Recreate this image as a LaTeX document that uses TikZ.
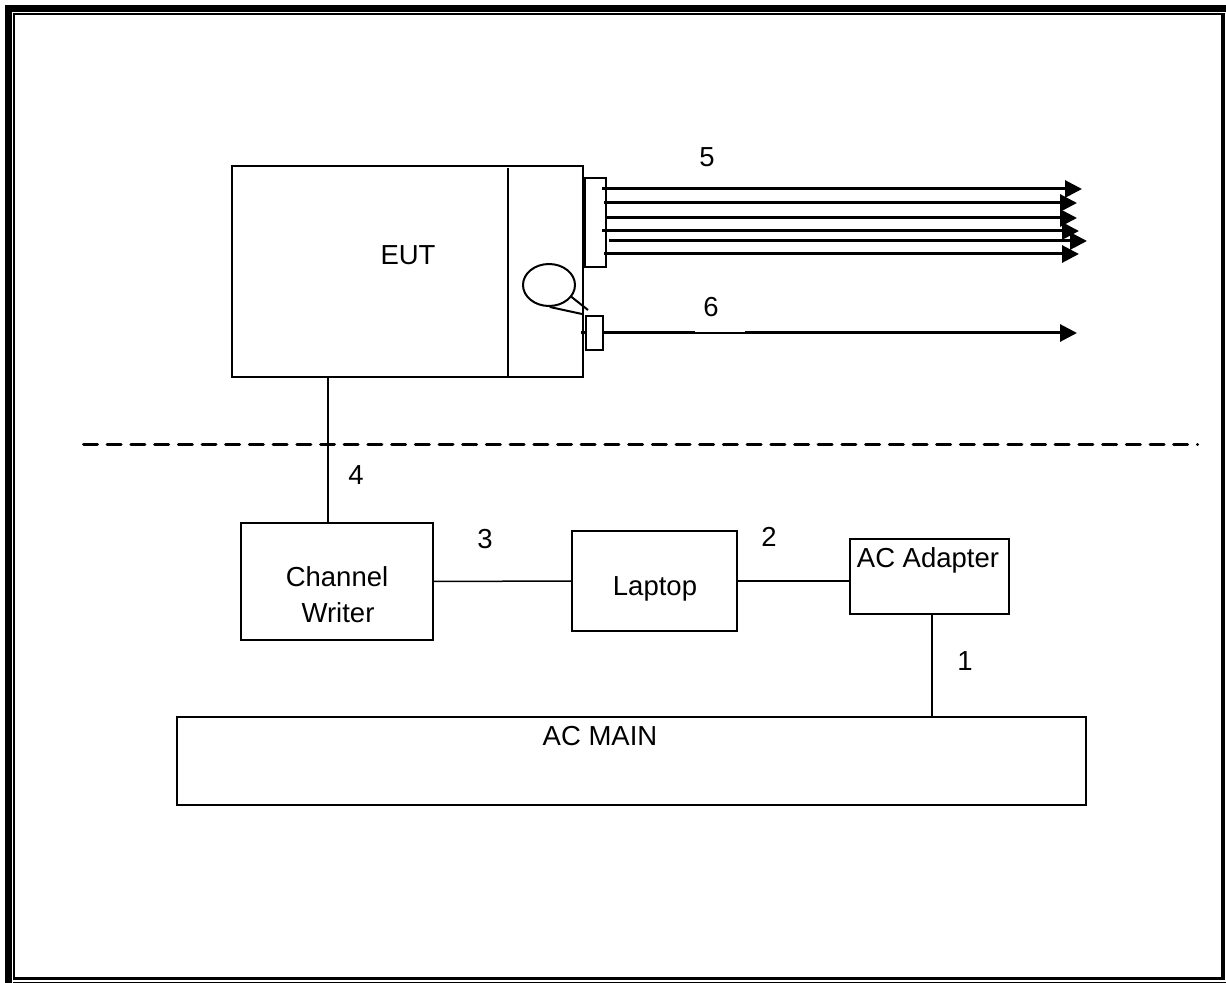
\documentclass[tikz,border=0pt]{standalone}
\usepackage{fontspec}
\setmainfont{Liberation Sans}
\usetikzlibrary{arrows.meta,shapes.geometric}
\begin{document}
\begin{tikzpicture}[x=0.5pt,y=-0.5pt,
  box/.style={draw,line width=1pt,fill=white,inner sep=0pt},
  txt/.style={inner sep=0pt,anchor=base,font=\fontsize{13.75pt}{17.5pt}\selectfont},
  cable/.style={line width=1.5pt},
  wire/.style={line width=1pt},
  thinwire/.style={line width=0.75pt},
  tip/.style={-{Triangle[length=8.5pt,width=8.5pt]}},
]
\useasboundingbox (0,0) rectangle (1226,983);
% page border
\fill (5,5) rectangle (12,983);
\fill (5,5) rectangle (1226,12);
\fill (13,13) rectangle (15,980);
\fill (13,13) rectangle (1221,15);
\fill (1221,13) rectangle (1225,980);
\fill (15,977) rectangle (1225,980);
\fill (13,982) rectangle (1226,983.5);

% EUT
\node[box,minimum width=175.5pt,minimum height=105.5pt] (eut) at (407.5,271.5) {};
\draw[thinwire] ([xshift=50.25pt,yshift=-1.5pt]eut.north) -- ([xshift=50.25pt]eut.south);
\node[txt] (euttext) at (408,265) {EUT};

% connector 5
\node[box,minimum width=10.5pt,minimum height=44.5pt] (c5) at (595.5,222.5) {};
\foreach \i/\sx/\yy/\ex in {1/602/189/1082, 2/604/203/1077, 3/606/218/1077, 4/602/231/1079, 5/609/241/1087, 6/604/254/1079} {
  \coordinate (s\i) at (\sx,\yy);
  \coordinate (e\i) at (\ex,\yy);
  \draw[cable,tip] (s\i) -- (e\i);
}

% connector 6
\node[box,minimum width=8.5pt,minimum height=17pt] (c6) at (594.5,333) {};
\coordinate (s7) at (581,333);
\coordinate (m1) at (695,333);
\coordinate (m2) at (745,333);
\coordinate (e7) at (1077,333);
\draw[cable] (s7) -- (c6.west);
\draw[cable] (c6.east) -- (m1);
\draw[thinwire] (m1) -- (m2);
\draw[cable,tip] (m2) -- (e7);

% loop callout
\node[draw,ellipse,line width=1pt,minimum width=26pt,minimum height=21pt,inner sep=0pt] (loop) at (549,285) {};
\coordinate (p1) at (588,310);
\coordinate (p2) at (582,314);
\draw[wire] (loop.-28) -- (p1);
\draw[wire] (loop.-88) -- (p2);

% dashed separation
\coordinate (d1) at (83.5,445);
\coordinate (d2) at (1197.5,445);
\draw[line width=1.5pt,line cap=round,dash pattern=on 7pt off 4.85pt] (d1) -- (d2);

% lower boxes
\node[box,minimum width=96pt,minimum height=58.5pt] (cw) at (337,581.5) {};
\node[txt] (cwt1) at (337,587) {Channel};
\node[txt] (cwt2) at (338,623) {Writer};

\node[box,minimum width=82.5pt,minimum height=50pt] (lap) at (654.5,581) {};
\node[txt] (laptext) at (655,596) {Laptop};

\node[box,minimum width=79.5pt,minimum height=37.5pt] (acad) at (929.5,576.5) {};
\node[txt] (acadtext) at (928,568) {AC Adapter};

\node[box,minimum width=454.5pt,minimum height=44pt] (acmain) at (631.5,761) {};
\node[txt] (acmaintext) at (600,745) {AC MAIN};

% cables
\draw[wire] ([xshift=-39.75pt]eut.south) -- ([xshift=-39.75pt]eut.south |- cw.north);
\draw[thinwire] (cw.east) -- (lap.west);
\draw[thinwire] (lap.east) -- (lap.east -| acad.west);
\draw[wire] ([xshift=1.25pt]acad.south) -- ([xshift=1.25pt]acad.south |- acmain.north);

% labels
\node[txt] (l5) at (707,167) {5};
\node[txt] (l6) at (711,317) {6};
\node[txt] (l4) at (356,485) {4};
\node[txt] (l3) at (485,549) {3};
\node[txt] (l2) at (769,547) {2};
\node[txt] (l1) at (965,670) {1};
\end{tikzpicture}
\end{document}
